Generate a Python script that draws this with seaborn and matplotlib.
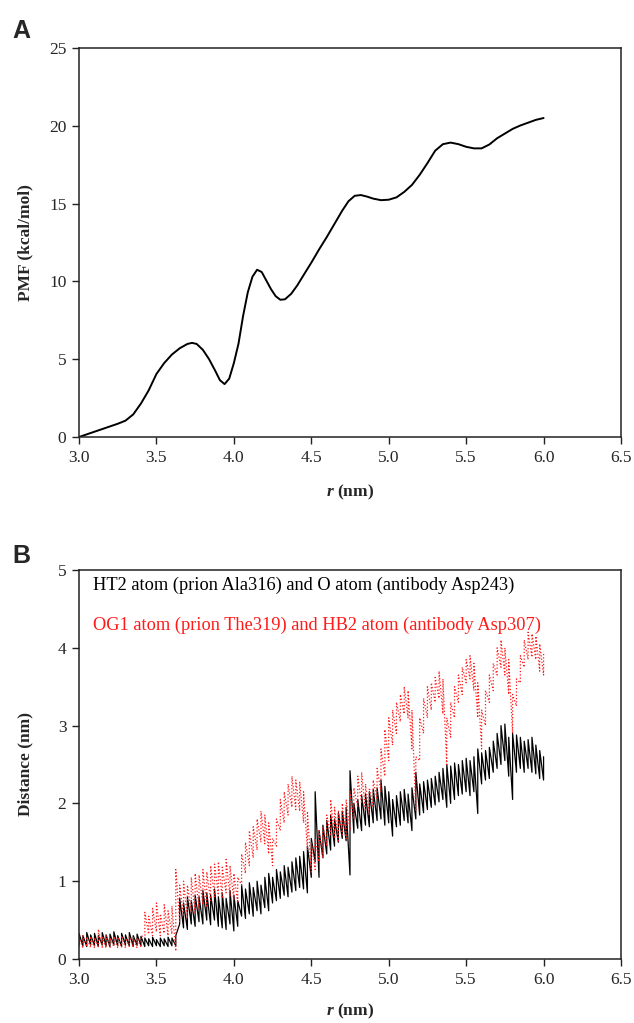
"""
plot.py - PMF profile (A) and atom-pair distances (B) along r.
"""

import numpy as np
import pandas as pd
import matplotlib
matplotlib.use("Agg")
import matplotlib.pyplot as plt
import seaborn as sns

# ---- panel A: PMF curve ----
pmf_r = [3.00, 3.05, 3.10, 3.15, 3.20, 3.25, 3.30, 3.35, 3.40, 3.45,
         3.50, 3.55, 3.60, 3.65, 3.70, 3.73, 3.76, 3.80, 3.84, 3.88,
         3.91, 3.94, 3.97, 4.00, 4.03, 4.06, 4.09, 4.12, 4.15, 4.18,
         4.21, 4.24, 4.27, 4.30, 4.33, 4.37, 4.41, 4.45, 4.50, 4.55,
         4.60, 4.65, 4.70, 4.74, 4.78, 4.82, 4.86, 4.90, 4.95, 5.00,
         5.05, 5.10, 5.15, 5.20, 5.25, 5.30, 5.35, 5.40, 5.45, 5.50,
         5.55, 5.60, 5.65, 5.70, 5.75, 5.80, 5.85, 5.90, 5.95, 6.00]
pmf_val = [0.00, 0.17, 0.34, 0.51, 0.68, 0.85, 1.05, 1.45, 2.15, 3.00,
           4.05, 4.75, 5.30, 5.70, 5.98, 6.05, 5.98, 5.60, 5.00, 4.25,
           3.65, 3.40, 3.75, 4.75, 6.00, 7.80, 9.30, 10.30, 10.75, 10.60,
           10.05, 9.50, 9.05, 8.82, 8.85, 9.20, 9.75, 10.40, 11.20, 12.05,
           12.85, 13.70, 14.55, 15.15, 15.50, 15.55, 15.45, 15.32, 15.22, 15.25,
           15.40, 15.75, 16.20, 16.85, 17.60, 18.40, 18.82, 18.92, 18.82, 18.65,
           18.55, 18.55, 18.80, 19.20, 19.50, 19.80, 20.02, 20.20, 20.38, 20.50]

# ---- panel B: low / high envelope of each noisy distance trace ----
dist_r = [3.000, 3.025, 3.050, 3.075, 3.100, 3.125, 3.150, 3.175, 3.200, 3.225,
          3.250, 3.275, 3.300, 3.325, 3.350, 3.375, 3.400, 3.425, 3.450, 3.475,
          3.500, 3.525, 3.550, 3.575, 3.600, 3.625, 3.650, 3.675, 3.700, 3.725,
          3.750, 3.775, 3.800, 3.825, 3.850, 3.875, 3.900, 3.925, 3.950, 3.975,
          4.000, 4.025, 4.050, 4.075, 4.100, 4.125, 4.150, 4.175, 4.200, 4.225,
          4.250, 4.275, 4.300, 4.325, 4.350, 4.375, 4.400, 4.425, 4.450, 4.475,
          4.500, 4.525, 4.550, 4.575, 4.600, 4.625, 4.650, 4.675, 4.700, 4.725,
          4.750, 4.775, 4.800, 4.825, 4.850, 4.875, 4.900, 4.925, 4.950, 4.975,
          5.000, 5.025, 5.050, 5.075, 5.100, 5.125, 5.150, 5.175, 5.200, 5.225,
          5.250, 5.275, 5.300, 5.325, 5.350, 5.375, 5.400, 5.425, 5.450, 5.475,
          5.500, 5.525, 5.550, 5.575, 5.600, 5.625, 5.650, 5.675, 5.700, 5.725,
          5.750, 5.775, 5.800, 5.825, 5.850, 5.875, 5.900, 5.925, 5.950, 5.975,
          6.000]

ht2_lo = [0.18, 0.17, 0.16, 0.18, 0.17, 0.16, 0.18, 0.17, 0.16, 0.18,
          0.17, 0.16, 0.18, 0.17, 0.16, 0.18, 0.17, 0.16, 0.17, 0.16,
          0.17, 0.16, 0.17, 0.16, 0.17, 0.17, 0.45, 0.40, 0.38, 0.45,
          0.42, 0.48, 0.45, 0.50, 0.44, 0.50, 0.42, 0.40, 0.38, 0.45,
          0.36, 0.42, 0.55, 0.52, 0.58, 0.55, 0.62, 0.58, 0.66, 0.62,
          0.72, 0.75, 0.78, 0.82, 0.80, 0.86, 0.88, 0.92, 0.90, 0.85,
          1.05, 1.25, 1.05, 1.30, 1.35, 1.40, 1.45, 1.50, 1.55, 1.52,
          1.08, 1.62, 1.68, 1.65, 1.72, 1.70, 1.75, 1.78, 1.80, 1.72,
          1.75, 1.58, 1.70, 1.72, 1.78, 1.75, 1.65, 1.80, 1.85, 1.88,
          1.92, 1.95, 1.98, 2.02, 2.05, 1.95, 2.00, 2.05, 2.10, 2.12,
          2.15, 2.10, 2.15, 1.87, 2.25, 2.30, 2.32, 2.40, 2.45, 2.50,
          2.55, 2.35, 2.05, 2.40, 2.45, 2.40, 2.45, 2.40, 2.38, 2.32,
          2.30]
ht2_hi = [0.33, 0.30, 0.34, 0.31, 0.33, 0.30, 0.34, 0.31, 0.32, 0.35,
          0.30, 0.33, 0.31, 0.34, 0.30, 0.32, 0.29, 0.27, 0.26, 0.28,
          0.25, 0.27, 0.26, 0.28, 0.27, 0.30, 0.78, 0.72, 0.80, 0.75,
          0.82, 0.80, 0.88, 0.85, 0.82, 0.90, 0.80, 0.85, 0.78, 0.88,
          0.82, 0.75, 0.95, 0.90, 0.98, 0.92, 1.00, 0.95, 1.05, 1.10,
          1.05, 1.15, 1.12, 1.20, 1.18, 1.25, 1.30, 1.32, 1.38, 1.45,
          1.55, 2.15, 1.65, 1.72, 1.78, 1.85, 1.80, 1.88, 1.90, 1.95,
          2.42, 2.00, 2.05, 2.10, 2.12, 2.15, 2.18, 2.20, 2.30, 2.22,
          2.15, 2.05, 2.10, 2.15, 2.18, 2.12, 2.20, 2.40, 2.25, 2.28,
          2.30, 2.32, 2.35, 2.40, 2.45, 2.50, 2.48, 2.52, 2.50, 2.55,
          2.58, 2.55, 2.60, 2.70, 2.65, 2.68, 2.72, 2.80, 2.90, 3.00,
          3.02, 2.85, 2.90, 2.88, 2.85, 2.80, 2.82, 2.85, 2.75, 2.68,
          2.60]

og1_lo = [0.15, 0.14, 0.16, 0.15, 0.14, 0.16, 0.15, 0.14, 0.15, 0.16,
          0.14, 0.15, 0.14, 0.16, 0.15, 0.14, 0.15, 0.30, 0.32, 0.30,
          0.35, 0.30, 0.33, 0.30, 0.32, 0.10, 0.48, 0.55, 0.52, 0.60,
          0.58, 0.65, 0.70, 0.68, 0.75, 0.80, 0.82, 0.78, 0.85, 0.80,
          0.75, 0.72, 0.95, 1.10, 1.20, 1.30, 1.40, 1.50, 1.48, 1.35,
          1.20, 1.45, 1.65, 1.75, 1.85, 1.95, 1.92, 1.90, 1.75, 1.40,
          1.10, 1.15, 1.25, 1.30, 1.45, 1.60, 1.55, 1.50, 1.60, 1.55,
          1.65, 1.80, 1.95, 2.00, 1.90, 1.85, 1.95, 2.05, 2.15, 2.35,
          2.55, 2.75, 2.90, 3.05, 3.15, 3.10, 2.70, 1.90, 2.55, 2.90,
          3.10, 3.20, 3.30, 3.35, 3.15, 2.50, 2.85, 3.10, 3.30, 3.40,
          3.55, 3.60, 3.45, 3.10, 2.70, 3.00, 3.30, 3.45, 3.65, 3.75,
          3.65, 3.40, 2.90, 3.25, 3.55, 3.75, 3.85, 3.88, 3.85, 3.70,
          3.65]
og1_hi = [0.28, 0.30, 0.27, 0.29, 0.27, 0.38, 0.28, 0.30, 0.27, 0.29,
          0.28, 0.30, 0.27, 0.29, 0.28, 0.27, 0.29, 0.60, 0.55, 0.65,
          0.72, 0.58, 0.70, 0.62, 0.68, 1.15, 0.95, 1.00, 0.95, 1.05,
          1.10, 1.08, 1.15, 1.12, 1.20, 1.22, 1.25, 1.18, 1.28, 1.20,
          1.10, 1.05, 1.35, 1.50, 1.65, 1.70, 1.80, 1.90, 1.85, 1.75,
          1.55, 1.80, 2.05, 2.15, 2.25, 2.35, 2.30, 2.28, 2.15, 1.90,
          1.50, 1.55, 1.65, 1.70, 1.85, 2.05, 1.95, 1.90, 2.00, 2.05,
          2.15, 2.20, 2.35, 2.40, 2.25, 2.20, 2.30, 2.45, 2.70, 2.95,
          3.10, 3.20, 3.30, 3.40, 3.50, 3.45, 3.20, 2.60, 3.10, 3.35,
          3.50, 3.55, 3.62, 3.70, 3.60, 3.10, 3.30, 3.50, 3.65, 3.75,
          3.85, 3.90, 3.80, 3.55, 3.20, 3.45, 3.65, 3.80, 4.00, 4.10,
          4.00, 3.85, 3.40, 3.60, 3.90, 4.10, 4.20, 4.18, 4.15, 4.05,
          3.95]

ht2_label = "HT2 atom (prion Ala316) and O atom (antibody Asp243)"
og1_label = "OG1 atom (prion The319) and HB2 atom (antibody Asp307)"

x_ticks = [3.0, 3.5, 4.0, 4.5, 5.0, 5.5, 6.0, 6.5]
pmf_ticks = [0, 5, 10, 15, 20, 25]
dist_ticks = [0, 1, 2, 3, 4, 5]

sns.set_theme(style="ticks")
plt.rcParams["font.family"] = ["Liberation Serif", "DejaVu Serif"]
plt.rcParams["mathtext.fontset"] = "custom"
plt.rcParams["mathtext.rm"] = "Liberation Serif"
plt.rcParams["mathtext.bf"] = "Liberation Serif:bold"
plt.rcParams["mathtext.it"] = "Liberation Serif:italic"
plt.rcParams["mathtext.bfit"] = "Liberation Serif:italic:bold"

RED = "#ff1a1a"


def envelope_frame(r, lo, hi):
    """Long-form table: each r gets its low and high reading (sorted -> sawtooth)."""
    return pd.DataFrame({"r": list(r) + list(r), "d": list(lo) + list(hi)})


def style_axes(ax, yticks, ylabel, xlab_y):
    ax.set_xlim(3.0, 6.5)
    ax.set_ylim(yticks[0], yticks[-1])
    ax.set_xticks(x_ticks)
    ax.set_xticklabels([f"{t:.1f}" for t in x_ticks])
    ax.set_yticks(yticks)
    ax.tick_params(direction="out", length=5, width=1.0, color="#222222",
                   labelsize=12.5, pad=4, top=False, right=False)
    for sp in ax.spines.values():
        sp.set_visible(True)
        sp.set_linewidth(1.1)
        sp.set_color("#222222")
    ax.set_xlabel(r"$\mathbfit{r}$ (nm)", fontsize=12.5, fontweight="bold")
    ax.set_ylabel(ylabel, fontsize=12.5, fontweight="bold")
    ax.xaxis.set_label_coords(0.5, xlab_y)
    ax.yaxis.set_label_coords(-0.085, 0.5)


fig = plt.figure(figsize=(6.34, 10.23), dpi=100)
axA = fig.add_axes([79 / 634, 1 - 437 / 1023, 542 / 634, 389 / 1023])
axB = fig.add_axes([79 / 634, 1 - 959 / 1023, 542 / 634, 389 / 1023])

# A: PMF
pmf_df = pd.DataFrame({"r": pmf_r, "pmf": pmf_val})
sns.lineplot(data=pmf_df, x="r", y="pmf", ax=axA, color="black",
             linewidth=1.4, estimator=None)
style_axes(axA, pmf_ticks, "PMF (kcal/mol)", -0.118)

# B: distances (black first, red dotted on top)
sns.lineplot(data=envelope_frame(dist_r, ht2_lo, ht2_hi), x="r", y="d",
             ax=axB, color="black", linewidth=0.9, estimator=None)
sns.lineplot(data=envelope_frame(dist_r, og1_lo, og1_hi), x="r", y="d",
             ax=axB, color=RED, linewidth=0.9, linestyle=":",
             estimator=None)
style_axes(axB, dist_ticks, "Distance (nm)", -0.11)

axB.text(0.026, 0.949, ht2_label, transform=axB.transAxes, fontsize=13.2,
         color="black", va="baseline")
axB.text(0.026, 0.846, og1_label, transform=axB.transAxes, fontsize=13.2,
         color=RED, va="baseline")

fig.text(12 / 634, 1 - 38 / 1023, "A", fontsize=18, fontweight="bold",
         family=["Liberation Sans", "DejaVu Sans"], va="baseline")
fig.text(12 / 634, 1 - 563 / 1023, "B", fontsize=18, fontweight="bold",
         family=["Liberation Sans", "DejaVu Sans"], va="baseline")

fig.savefig("out.png", dpi=100, facecolor="white")
plt.close(fig)
